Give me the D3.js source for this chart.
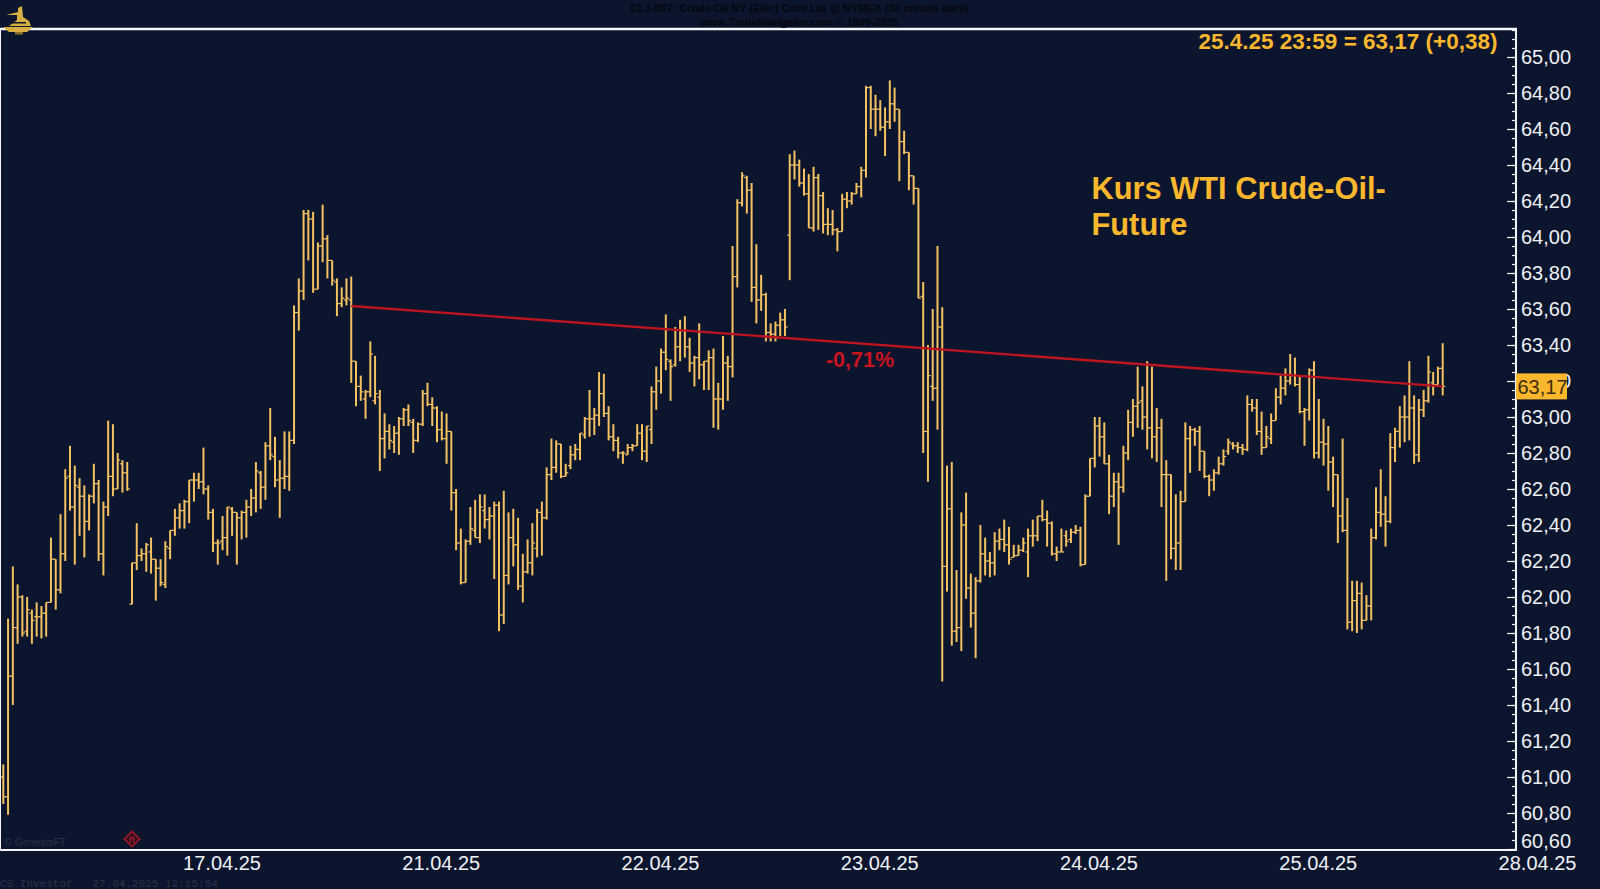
<!DOCTYPE html>
<html>
<head>
  <meta charset="UTF-8">
  <script src="https://d3js.org/d3.v7.min.js"></script>
  <style>
    html, body { margin: 0; padding: 0; background: #0b152d; }
    svg { display: block; }
    text { font-family: "Liberation Sans", Arial, sans-serif; }
  </style>
</head>
<body>
  <svg height="889" width="1600" id="chart"></svg>

  <script>
    // bars, 30 minute bars, oldest first
    let high = [
      61.07,61.88,62.17,62.07,62.01,62.00,61.93,61.97,61.95,61.97,
      62.33,62.21,62.46,62.71,62.84,62.73,62.66,62.62,62.57,62.74,
      62.65,62.53,62.98,62.96,62.80,62.76,62.75,62.19,62.41,62.27,
      62.30,62.33,62.21,62.21,62.31,62.37,62.49,62.52,62.54,62.65,
      62.69,62.69,62.83,62.62,62.49,62.32,62.45,62.50,62.50,62.47,
      62.48,62.54,62.60,62.75,62.70,62.86,63.05,62.89,62.76,62.92,
      62.92,63.62,63.77,64.15,64.15,64.14,63.97,64.18,64.01,63.87,
      63.77,63.72,63.77,63.78,63.31,63.23,63.15,63.42,63.34,63.15,
      63.02,62.96,62.95,63.00,63.05,63.07,62.99,62.97,63.15,63.19,
      63.11,63.06,63.03,63.02,62.92,62.60,62.38,62.32,62.50,62.54,
      62.57,62.57,62.50,62.53,62.53,62.59,62.47,62.49,62.44,62.24,
      62.32,62.41,62.49,62.53,62.72,62.88,62.87,62.85,62.74,62.84,
      62.85,62.91,63.00,63.15,63.05,63.25,63.24,63.06,62.96,62.89,
      62.81,62.85,62.85,62.96,62.96,62.95,63.17,63.28,63.38,63.57,
      63.32,63.50,63.54,63.56,63.44,63.34,63.52,63.31,63.37,63.38,
      63.19,63.45,63.34,63.95,64.21,64.36,64.34,64.30,63.96,63.79,
      63.69,63.52,63.53,63.58,63.60,64.46,64.48,64.43,64.38,64.35,
      64.39,64.35,64.25,64.16,64.15,64.05,64.24,64.25,64.25,64.30,
      64.39,64.84,64.84,64.79,64.76,64.72,64.87,64.83,64.71,64.59,
      64.47,64.34,64.27,63.75,63.40,63.60,63.95,63.61,62.73,62.75,
      62.15,62.47,62.58,62.13,62.11,62.40,62.33,62.25,62.36,62.38,
      62.43,62.39,62.29,62.29,62.33,62.38,62.43,62.45,62.54,62.48,
      62.42,62.28,62.38,62.37,62.38,62.40,62.39,62.57,62.77,63.00,
      63.00,62.97,62.79,62.69,62.69,62.84,63.04,63.10,63.28,63.17,
      63.31,63.28,63.05,62.99,62.76,62.68,62.57,62.59,62.97,62.95,
      62.94,62.95,62.81,62.68,62.71,62.78,62.82,62.88,62.86,62.86,
      62.85,63.12,63.10,63.10,63.03,62.95,63.02,63.16,63.23,63.27,
      63.35,63.33,63.23,63.05,63.27,63.31,63.10,62.99,62.95,62.78,
      62.68,62.88,62.55,62.09,62.09,62.08,62.01,62.38,62.61,62.71,
      62.56,62.91,62.94,63.06,63.12,63.31,63.12,63.10,63.15,63.34,
      63.25,63.28,63.41
    ];
    let low = [
      60.85,60.79,61.40,61.74,61.78,61.78,61.74,61.78,61.77,61.78,
      61.97,61.93,62.02,62.20,62.48,62.18,62.34,62.22,62.37,62.52,
      62.20,62.12,62.45,62.56,62.60,62.58,62.59,61.96,62.15,62.20,
      62.14,62.13,61.98,62.06,62.05,62.21,62.34,62.38,62.38,62.41,
      62.53,62.60,62.57,62.43,62.25,62.18,62.26,62.23,62.34,62.18,
      62.32,62.33,62.45,62.47,62.49,62.54,62.76,62.61,62.44,62.60,
      62.59,62.85,63.48,63.65,63.87,63.69,63.71,63.86,63.77,63.73,
      63.56,63.61,63.62,63.19,63.06,63.09,62.99,63.11,63.07,62.70,
      62.77,62.82,62.80,62.79,62.95,62.95,62.80,62.86,62.95,63.06,
      62.95,62.86,62.87,62.74,62.48,62.26,62.07,62.08,62.29,62.33,
      62.30,62.38,62.32,62.10,61.81,61.85,62.07,62.17,62.04,61.97,
      62.13,62.12,62.22,62.23,62.43,62.65,62.69,62.66,62.67,62.71,
      62.76,62.76,62.88,62.89,62.90,62.95,63.00,62.87,62.81,62.77,
      62.74,62.79,62.81,62.84,62.76,62.75,62.85,63.04,63.13,63.26,
      63.09,63.28,63.31,63.33,63.25,63.17,63.21,63.15,63.15,62.94,
      62.93,63.04,63.09,63.22,63.72,64.17,64.13,63.64,63.52,63.59,
      63.42,63.42,63.42,63.45,63.45,63.76,64.32,64.28,64.23,64.05,
      64.03,64.04,64.02,64.01,64.01,63.92,64.03,64.16,64.18,64.24,
      64.22,64.33,64.60,64.56,64.59,64.45,64.60,64.64,64.31,64.46,
      64.26,64.18,63.66,62.80,62.64,63.09,62.93,61.53,62.03,61.73,
      61.75,61.70,61.99,61.83,61.66,62.08,62.12,62.11,62.12,62.26,
      62.25,62.18,62.22,62.23,62.25,62.11,62.28,62.31,62.42,62.28,
      62.23,62.20,62.25,62.28,62.30,62.35,62.17,62.18,62.56,62.72,
      62.78,62.74,62.46,62.50,62.29,62.58,62.76,62.89,62.94,62.93,
      62.82,62.77,62.75,62.50,62.09,62.21,62.15,62.15,62.53,62.69,
      62.84,62.70,62.66,62.56,62.59,62.68,62.73,62.79,62.82,62.80,
      62.79,62.81,63.03,62.90,62.79,62.83,62.85,62.98,63.07,63.12,
      63.18,63.17,63.02,62.84,62.98,62.77,62.77,62.73,62.59,62.50,
      62.30,62.36,61.82,61.81,61.80,61.82,61.87,61.87,62.32,62.39,
      62.28,62.41,62.75,62.83,62.86,62.87,62.74,62.75,63.00,63.08,
      63.12,63.18,63.12
    ];
    let open = [
      61.00,60.89,61.56,61.83,62.00,61.81,61.91,61.89,61.89,61.91,
      61.97,62.21,62.04,62.24,62.67,62.50,62.61,62.56,62.42,62.56,
      62.63,62.24,62.50,62.67,62.60,62.74,62.69,61.96,62.19,62.23,
      62.24,62.25,62.21,62.16,62.07,62.27,62.37,62.44,62.48,62.53,
      62.65,62.65,62.64,62.60,62.47,62.30,62.31,62.33,62.49,62.47,
      62.44,62.47,62.50,62.55,62.69,62.61,62.84,62.78,62.65,62.66,
      62.67,62.87,63.58,63.70,64.13,64.10,63.71,63.95,63.99,63.87,
      63.75,63.63,63.65,63.65,63.31,63.17,63.10,63.14,63.09,63.11,
      62.88,62.92,62.86,62.91,62.99,63.04,62.97,62.87,62.96,63.13,
      63.07,63.05,62.93,62.88,62.92,62.58,62.30,62.08,62.31,62.37,
      62.33,62.48,62.43,62.45,62.51,61.90,62.12,62.33,62.29,62.06,
      62.14,62.19,62.27,62.47,62.44,62.68,62.72,62.85,62.67,62.73,
      62.79,62.82,62.90,62.99,62.99,63.01,63.13,63.02,62.89,62.87,
      62.80,62.79,62.83,62.84,62.91,62.81,62.93,63.14,63.20,63.36,
      63.31,63.29,63.39,63.48,63.39,63.30,63.33,63.29,63.31,63.33,
      63.10,63.10,63.30,63.28,63.78,64.19,64.33,64.26,63.72,63.65,
      63.68,63.47,63.46,63.51,63.54,64.01,64.40,64.40,64.30,64.24,
      64.05,64.33,64.23,64.07,64.07,64.04,64.03,64.21,64.20,64.24,
      64.28,64.37,64.83,64.71,64.71,64.61,64.64,64.74,64.71,64.53,
      64.47,64.34,64.27,63.67,62.92,63.17,63.16,63.50,62.17,62.49,
      61.81,61.83,62.40,62.05,61.91,62.09,62.24,62.20,62.19,62.31,
      62.32,62.29,62.22,62.23,62.26,62.25,62.34,62.34,62.45,62.43,
      62.41,62.24,62.25,62.34,62.32,62.36,62.37,62.18,62.56,62.77,
      62.95,62.89,62.74,62.56,62.64,62.61,62.80,62.97,63.06,63.09,
      63.00,62.94,62.89,62.94,62.68,62.68,62.27,62.30,62.53,62.88,
      62.93,62.92,62.81,62.67,62.65,62.69,62.74,62.81,62.85,62.84,
      62.83,62.82,63.07,63.05,62.92,62.83,62.88,62.98,63.11,63.16,
      63.20,63.23,63.18,63.03,63.04,63.26,62.80,62.86,62.85,62.75,
      62.68,62.45,62.37,61.86,61.98,62.02,61.87,61.95,62.33,62.47,
      62.46,62.42,62.83,62.92,63.00,63.00,63.05,62.79,63.04,63.09,
      63.19,63.18,63.27
    ];
    let close = [
      60.89,61.56,61.83,62.00,61.80,61.93,61.87,61.89,61.91,61.97,
      62.21,62.04,62.24,62.66,62.50,62.62,62.56,62.42,62.56,62.63,
      62.24,62.50,62.67,62.60,62.76,62.69,62.60,62.19,62.23,62.24,
      62.29,62.21,62.16,62.08,62.28,62.37,62.44,62.48,62.53,62.65,
      62.65,62.64,62.60,62.47,62.30,62.30,62.33,62.50,62.47,62.44,
      62.47,62.50,62.55,62.70,62.61,62.84,62.79,62.65,62.66,62.67,
      62.87,63.58,63.70,64.13,64.10,63.71,63.95,63.99,63.87,63.76,
      63.63,63.66,63.66,63.31,63.17,63.14,63.14,63.35,63.13,62.88,
      62.92,62.87,62.91,62.99,63.04,62.98,62.87,62.96,63.13,63.07,
      63.05,62.93,62.88,62.92,62.58,62.30,62.08,62.31,62.38,62.33,
      62.50,62.43,62.45,62.51,61.90,62.12,62.33,62.29,62.06,62.14,
      62.19,62.30,62.47,62.44,62.68,62.72,62.85,62.67,62.69,62.79,
      62.82,62.91,62.99,62.99,63.01,63.13,63.02,62.89,62.87,62.80,
      62.80,62.83,62.84,62.91,62.81,62.95,63.14,63.20,63.36,63.32,
      63.28,63.39,63.48,63.39,63.30,63.33,63.29,63.31,63.33,63.10,
      63.10,63.30,63.28,63.78,64.19,64.34,64.26,63.72,63.65,63.68,
      63.47,63.46,63.51,63.54,63.50,64.40,64.40,64.30,64.24,64.05,
      64.33,64.23,64.07,64.07,64.04,64.03,64.21,64.20,64.24,64.28,
      64.37,64.83,64.71,64.71,64.61,64.64,64.74,64.71,64.53,64.47,
      64.34,64.27,63.66,62.92,63.23,63.16,63.50,62.17,62.49,61.81,
      61.83,62.40,62.05,61.91,62.09,62.24,62.20,62.19,62.31,62.32,
      62.29,62.21,62.23,62.26,62.30,62.34,62.34,62.45,62.43,62.41,
      62.24,62.25,62.25,62.31,62.36,62.37,62.18,62.56,62.77,62.95,
      62.89,62.74,62.56,62.64,62.61,62.80,62.97,63.06,63.08,63.00,
      62.94,62.89,62.94,62.68,62.68,62.27,62.30,62.53,62.88,62.93,
      62.92,62.81,62.67,62.65,62.69,62.74,62.78,62.86,62.84,62.83,
      62.82,63.07,63.05,62.92,62.83,62.89,62.98,63.11,63.16,63.20,
      63.23,63.18,63.03,63.04,63.26,62.80,62.86,62.85,62.75,62.68,
      62.45,62.37,61.86,61.98,62.02,61.87,61.95,62.33,62.47,62.46,
      62.42,62.83,62.92,63.00,63.00,63.05,62.79,63.04,63.09,63.25,
      63.18,63.27,63.17
    ];

    // date labels sit on every 46th bar
    let dateTicks = [46, 92, 138, 184, 230, 276, 322];
    let dateLabels = ["17.04.25", "21.04.25", "22.04.25", "23.04.25", "24.04.25", "25.04.25", "28.04.25"];
    let priceTicks = [60.6, 60.8, 61, 61.2, 61.4, 61.6, 61.8, 62, 62.2, 62.4, 62.6, 62.8, 63,
                      63.2, 63.4, 63.6, 63.8, 64, 64.2, 64.4, 64.6, 64.8, 65];

    // trend line from bar 73 to the last bar, with its percentage
    let trendBars = [73, 302];
    let trendPrices = [63.617, 63.17];
    let lastPrice = 63.17;

    let gold = "#f4c163";
    let orange = "#fbb72e";
    let bgDark = "#0b152d";

    let svg = d3.select("#chart");
    let plot = { left: 1, right: 1516, top: 29, bottom: 850 };

    let xScale = d3.scaleLinear().domain([0, 302]).range([3.3, 1442.7]);
    let yScale = d3.scaleLinear().domain([65, 63]).range([57, 417]);

    let comma = d => d3.format(".2f")(d).replace(".", ",");

    svg.append("rect").attr("width", 1600).attr("height", 889).attr("fill", bgDark);

    // OHLC bars
    let bars = svg.append("g").attr("stroke", gold);
    high.forEach(function(h, i) {
      let x = xScale(i);
      bars.append("line")
        .attr("x1", x).attr("x2", x)
        .attr("y1", yScale(h)).attr("y2", yScale(low[i]))
        .attr("stroke-width", 2);
      bars.append("line")
        .attr("x1", x - 2.6).attr("x2", x)
        .attr("y1", yScale(open[i])).attr("y2", yScale(open[i]))
        .attr("stroke-width", 1.2);
      bars.append("line")
        .attr("x1", x).attr("x2", x + 2.6)
        .attr("y1", yScale(close[i])).attr("y2", yScale(close[i]))
        .attr("stroke-width", 1.2);
    });

    // red line
    let trendLine = d3.line()
      .x((d, i) => xScale(trendBars[i]))
      .y(d => yScale(d));
    svg.append("path")
      .attr("d", trendLine(trendPrices))
      .attr("fill", "none")
      .attr("stroke", "#bd141f")
      .attr("stroke-width", 2.4);

    svg.append("text")
      .attr("x", 860).attr("y", 366.5)
      .attr("text-anchor", "middle")
      .attr("font-size", 21.5).attr("font-weight", "bold")
      .attr("fill", "#c8141e")
      .text("-0,71%");

    // price axis, labels outside and ticks pointing into the plot
    let minorTicks = d3.range(60.6, 65.16, 0.05);
    svg.append("g")
      .attr("transform", `translate(${plot.right}, 0)`)
      .call(d3.axisRight(yScale).tickValues(minorTicks).tickSizeInner(-4).tickSizeOuter(0).tickFormat(""))
      .call(g => g.select(".domain").remove())
      .selectAll("line").attr("stroke", "#f2f4f8").attr("stroke-width", 1.2);

    let yAxis = svg.append("g")
      .attr("transform", `translate(${plot.right}, 0)`)
      .call(d3.axisRight(yScale).tickValues(priceTicks).tickSizeInner(-9).tickSizeOuter(0).tickPadding(5).tickFormat(comma));
    yAxis.select(".domain").remove();
    yAxis.selectAll("line").attr("stroke", "#f2f4f8").attr("stroke-width", 1.2);
    yAxis.selectAll("text")
      .attr("font-size", 20)
      .attr("font-family", "Liberation Sans")
      .attr("fill", "#eef1f6");
    // bottom label is pushed up so it stays above the frame
    yAxis.selectAll("text").filter(d => d === 60.6).attr("y", -8);

    // date axis
    let xAxis = svg.append("g")
      .attr("transform", `translate(0, ${plot.bottom})`)
      .call(d3.axisBottom(xScale).tickValues(dateTicks).tickSize(0).tickPadding(5.5)
        .tickFormat((d, i) => dateLabels[i]));
    xAxis.select(".domain").remove();
    xAxis.selectAll("text")
      .attr("font-size", 20)
      .attr("font-family", "Liberation Sans")
      .attr("dx", -1)
      .attr("fill", "#eef1f6");

    // frame
    let frame = svg.append("g").attr("stroke", "#f4f6fa");
    frame.append("line").attr("x1", 0).attr("x2", plot.right + 1).attr("y1", plot.top).attr("y2", plot.top).attr("stroke-width", 2.5);
    frame.append("line").attr("x1", 0).attr("x2", plot.right + 1).attr("y1", plot.bottom).attr("y2", plot.bottom).attr("stroke-width", 2);
    frame.append("line").attr("x1", plot.right).attr("x2", plot.right).attr("y1", plot.top).attr("y2", plot.bottom).attr("stroke-width", 2);
    frame.append("line").attr("x1", 0.5).attr("x2", 0.5).attr("y1", plot.top).attr("y2", plot.bottom).attr("stroke-width", 1);

    // last price box on the axis
    svg.append("rect")
      .attr("x", plot.right).attr("y", yScale(lastPrice) - 13)
      .attr("width", 51).attr("height", 26)
      .attr("fill", orange);
    svg.append("text")
      .attr("x", plot.right + 1.5).attr("y", yScale(lastPrice) + 7.5)
      .attr("font-size", 20)
      .attr("fill", "#3d2c10")
      .text(comma(lastPrice));

    // headline texts
    svg.append("text")
      .attr("x", 1497.5).attr("y", 48.5)
      .attr("text-anchor", "end")
      .attr("font-size", 22.5).attr("font-weight", "bold")
      .attr("fill", orange)
      .text("25.4.25 23:59 = 63,17 (+0,38)");

    let note = svg.append("text")
      .attr("font-size", 30.8).attr("font-weight", "bold")
      .attr("fill", orange);
    note.append("tspan").attr("x", 1091.5).attr("y", 199).text("Kurs WTI Crude-Oil-");
    note.append("tspan").attr("x", 1091.5).attr("y", 234.5).text("Future");

    // barely visible vendor lines in the margins
    let faint = svg.append("g").attr("font-weight", "bold").attr("font-size", 10.9).attr("fill", "#05070f").attr("text-anchor", "middle");
    faint.append("text").attr("x", 799.5).attr("y", 12).text("CL3-057:  Crude Oil NY (Elec) Cont Liq @ NYMEX  (30 minute bars)");
    faint.append("text").attr("x", 799.5).attr("y", 26).text("www.TradeNavigator.com © 1999-2025");

    svg.append("text")
      .attr("x", 4).attr("y", 846)
      .attr("font-size", 10.5).attr("fill", "#2b3348")
      .text("© GenesisFT");
    svg.append("text")
      .attr("x", 0).attr("y", 886.5)
      .attr("font-size", 11).attr("fill", "#2b3348")
      .style("font-family", "Liberation Mono")
      .style("white-space", "pre")
      .text("CS Investor   27.04.2025 12:15:54");

    // red diamond mark
    let mark = svg.append("g").attr("transform", "translate(132, 839)");
    mark.append("rect")
      .attr("x", -5.5).attr("y", -5.5).attr("width", 11).attr("height", 11)
      .attr("transform", "rotate(45)")
      .attr("fill", "#3a1020").attr("stroke", "#a11a26").attr("stroke-width", 1.5);
    mark.append("text")
      .attr("y", 3.5).attr("text-anchor", "middle")
      .attr("font-size", 9).attr("fill", "#b8202b")
      .text("R");

    // gold ship logo
    let logo = svg.append("g").attr("transform", "translate(3, 3)").attr("fill", "#d6ae42");
    logo.append("path").attr("d", "M0 24 L30 24 L24 29 L6 29 Z");
    logo.append("path").attr("d", "M3 12 L15 9 L15 5 L19 3 L20 14 L26 18 L28 23 L6 23 L14 17 L14 12 Z");
    logo.append("rect").attr("x", 12).attr("y", 29).attr("width", 8).attr("height", 2.5).attr("fill", "#8f7428");
    logo.append("rect").attr("x", 9).attr("y", 19).attr("width", 14).attr("height", 1.5).attr("fill", bgDark);
  </script>
</body>
</html>
